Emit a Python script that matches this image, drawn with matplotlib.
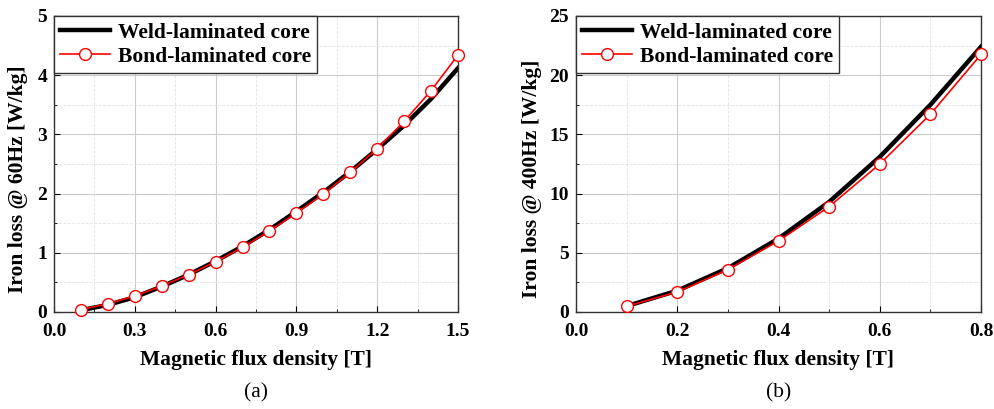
import numpy as np
import matplotlib.pyplot as plt
from matplotlib.ticker import MultipleLocator

plt.rcParams['font.family'] = ['Liberation Serif', 'DejaVu Serif']
plt.rcParams['font.weight'] = 'bold'
plt.rcParams['axes.labelweight'] = 'bold'

# (a) 60 Hz
b60 = [0.1, 0.2, 0.3, 0.4, 0.5, 0.6, 0.7, 0.8, 0.9, 1.0, 1.1, 1.2, 1.3, 1.4, 1.5]
weld60 = [0.03, 0.12, 0.25, 0.43, 0.63, 0.86, 1.11, 1.39, 1.70, 2.02, 2.37, 2.75, 3.15, 3.60, 4.12]
bond60 = [0.04, 0.14, 0.27, 0.44, 0.63, 0.85, 1.09, 1.37, 1.67, 1.99, 2.36, 2.76, 3.22, 3.74, 4.34]

# (b) 400 Hz
b400 = [0.1, 0.2, 0.3, 0.4, 0.5, 0.6, 0.7, 0.8]
weld400 = [0.5, 1.8, 3.7, 6.2, 9.3, 13.1, 17.5, 22.4]
bond400 = [0.48, 1.69, 3.58, 6.0, 8.9, 12.5, 16.7, 21.75]

fig = plt.figure(figsize=(9.94, 4.09), dpi=100)
ax1 = fig.add_axes([54/994, 1 - 312/409, 404/994, 296/409])
ax2 = fig.add_axes([576/994, 1 - 312/409, 405/994, 296/409])

panels = [
    (ax1, b60, weld60, bond60, 'Iron loss @ 60Hz [W/kg]', 1.5, 0.3, 5, 1, '(a)', -0.064),
    (ax2, b400, weld400, bond400, 'Iron loss @ 400Hz [W/kg]', 0.8, 0.2, 25, 5, '(b)', -0.084),
]

for ax, x, w, b, ylab, xmax, xstep, ymax, ystep, tag, ylx in panels:
    ax.plot(x, w, color='black', lw=3.2, label='Weld-laminated core', zorder=3)
    ax.plot(x, b, color='red', lw=1.2, marker='o', ms=8.5, mfc='white', mec='red',
            mew=1.0, label='Bond-laminated core', zorder=4, clip_on=False)
    ax.set_xlim(0, xmax)
    ax.set_ylim(0, ymax)
    ax.yaxis.set_major_locator(MultipleLocator(ystep))
    ax.xaxis.set_minor_locator(MultipleLocator(xstep / 2))
    ax.yaxis.set_minor_locator(MultipleLocator(ystep / 2))
    xt = np.arange(0, xmax + 1e-9, xstep)
    ax.set_xticks(xt)
    ax.set_xticklabels([f'{v:.1f}' for v in xt])
    ax.grid(which='major', color='#cccccc', lw=0.8, zorder=0)
    ax.grid(which='minor', color='#e3e3e3', lw=0.6, ls='--', zorder=0)
    ax.set_axisbelow(True)
    ax.tick_params(which='both', direction='in', labelsize=14, top=False, right=False)
    ax.tick_params(axis='x', which='major', length=4, pad=8)
    ax.tick_params(axis='y', which='major', length=4, pad=5)
    ax.tick_params(which='minor', length=2.5)
    for s in ax.spines.values():
        s.set_color('#333333')
        s.set_linewidth(1.0)
    ax.set_xlabel('Magnetic flux density [T]', fontsize=15.5, labelpad=7)
    ax.set_ylabel(ylab, fontsize=15.5)
    ax.yaxis.set_label_coords(ylx, 0.45)
    pos = ax.get_position()
    fig.text((pos.x0 + pos.x1) / 2, 1 - 393/409, tag, ha='center', va='center',
             fontsize=15.5, fontweight='normal')
    leg = ax.legend(loc='upper left', fontsize=15.5, frameon=True, fancybox=False,
                    edgecolor='#333333', framealpha=1, borderaxespad=0,
                    handlelength=2.3, handletextpad=0.35, borderpad=0.3,
                    labelspacing=0.2)
    leg.get_frame().set_linewidth(1.0)

fig.savefig('out.png', dpi=100)
